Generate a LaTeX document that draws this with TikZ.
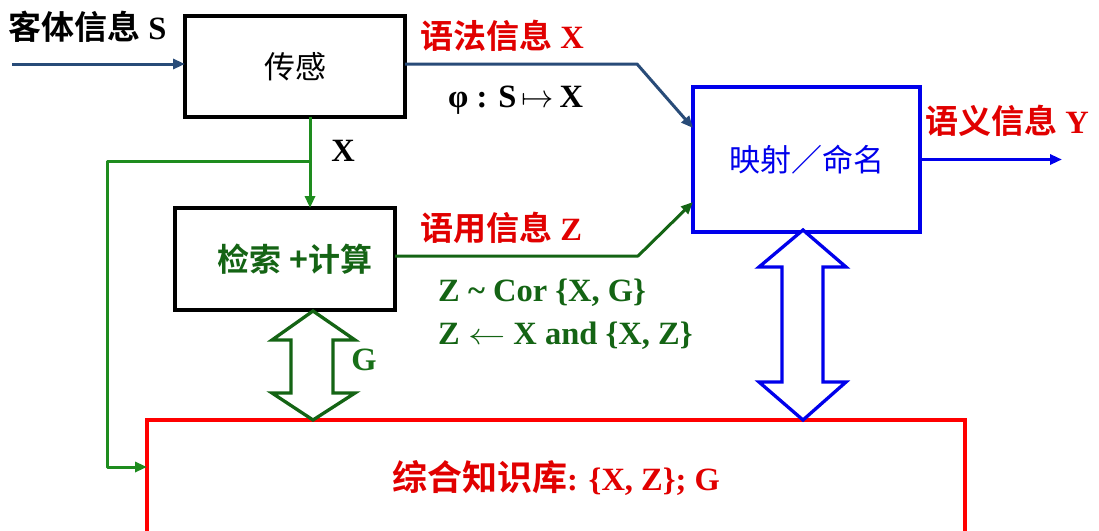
\documentclass[tikz,border=0pt]{standalone}
\usepackage{fontspec}
\setmainfont{Liberation Serif}
\newfontfamily\cjk{Noto Sans CJK SC}[BoldFont={Noto Sans CJK SC Bold}]
\usetikzlibrary{arrows.meta,calc}
\definecolor{dblue}{RGB}{40,75,120}
\definecolor{lgreen}{RGB}{30,140,30}
\definecolor{dgreen}{RGB}{20,100,20}
\definecolor{tred}{RGB}{225,0,0}
\definecolor{bblue}{RGB}{0,0,235}
\newcommand{\ck}[1]{{\cjk\fontsize{33}{36}\selectfont #1}}
\tikzset{
  box/.style={draw=black, line width=3.2pt, inner sep=0pt, outer sep=0pt},
  mapbox/.style={draw=bblue, line width=3.2pt, inner sep=0pt, outer sep=0pt},
  kbox/.style={draw=red, line width=3.2pt, inner sep=0pt, outer sep=0pt},
  lbl/.style={inner sep=0pt, font=\fontsize{32.5}{36}\selectfont\bfseries},
  tip/.style={-{Triangle[length=12pt,width=10pt]}},
  conn/.style={line width=3pt, line join=round},
  dbl/.style={line width=3.3pt, fill=white, line join=miter},
}
\begin{document}
\begin{tikzpicture}[x=1pt,y=-1pt]
\clip (0,0) rectangle (1099,530);
\fill[white] (0,0) rectangle (1099,530);
% boxes
\node[box, minimum width=220pt, minimum height=101pt, font=\fontsize{31}{34}\selectfont] (sense) at (295,66.5) {\cjk 传感};
\node[box, minimum width=220pt, minimum height=102pt, font=\fontsize{32}{36}\selectfont, text=dgreen] (calc) at (285,259) {\hspace*{20pt}\cjk\bfseries 检索 +计算};
\node[mapbox, minimum width=227pt, minimum height=145pt, font=\fontsize{31}{34}\selectfont, text=bblue] (map) at (806.5,159.5) {\cjk 映射／命名};
\node[kbox, minimum width=818pt, minimum height=130pt, anchor=north west] (kb) at (147,420) {};
\node[lbl, text=tred] (kbtext) at (556,478) {{\cjk\fontsize{35}{38}\selectfont 综合知识库}: \{X, Z\}; G};
% coordinates
\coordinate (in) at (12,64);
\coordinate (b1) at (637,64);
\coordinate (xs) at (310,117);
\coordinate (br) at (310,161);
\coordinate (bl) at (107,161);
\coordinate (bd) at (107,467);
\coordinate (z1) at (638,256);
\coordinate (out) at (1062,159.5);
% connectors
\draw[conn, dblue, tip] (in) -- (sense.west |- in);
\draw[conn, dblue, tip] (sense.east |- b1) -- (b1) -- ($(map.north west)+(0,41)$);
\draw[conn, lgreen, tip] (xs) -- (xs |- calc.north);
\draw[conn, lgreen, tip] (br) -- (bl) -- (bd) -- (kb.west |- bd);
\draw[conn, dgreen, tip] (calc.east |- z1) -- (z1) -- ($(map.south west)+(0,-30)$);
\draw[conn, bblue, tip] (map.east) -- (out);
% double arrows
\draw[dbl, draw=dgreen] (313,311) -- (355,340) -- (333,340) -- (333,393) -- (355,393) -- (313,420) -- (272,393) -- (291,393) -- (291,340) -- (272,340) -- cycle;
\draw[dbl, draw=bblue] (803,230) -- (846,267) -- (823,267) -- (823,382) -- (846,382) -- (803,420) -- (759,382) -- (782,382) -- (782,267) -- (759,267) -- cycle;
% labels
\node[lbl, anchor=west] (lS) at (8,27) {\ck{客体信息} S};
\node[lbl, anchor=west, text=tred] (lX) at (420,36) {\ck{语法信息} X};
\node[lbl, anchor=west] (lphi) at (448,100) {φ : S\,\scalebox{1.3}{$\mapsto$}\,X};
\node[lbl, anchor=west, text=tred] (lY) at (925,121) {\ck{语义信息} Y};
\node[lbl] (lXd) at (343,151) {X};
\node[lbl, anchor=west, text=tred] (lZ) at (420,228) {\ck{语用信息} Z};
\node[lbl, anchor=west, text=dgreen] (lc1) at (438,293) {Z \string~ Cor \{X, G\}};
\node[lbl, anchor=west, text=dgreen] (lc2) at (438,336) {Z \scalebox{1.5}[1.2]{$\leftarrow$} X and \{X, Z\}};
\node[lbl, text=lgreen!80!black] (lG) at (364,360) {G};
\end{tikzpicture}
\end{document}
